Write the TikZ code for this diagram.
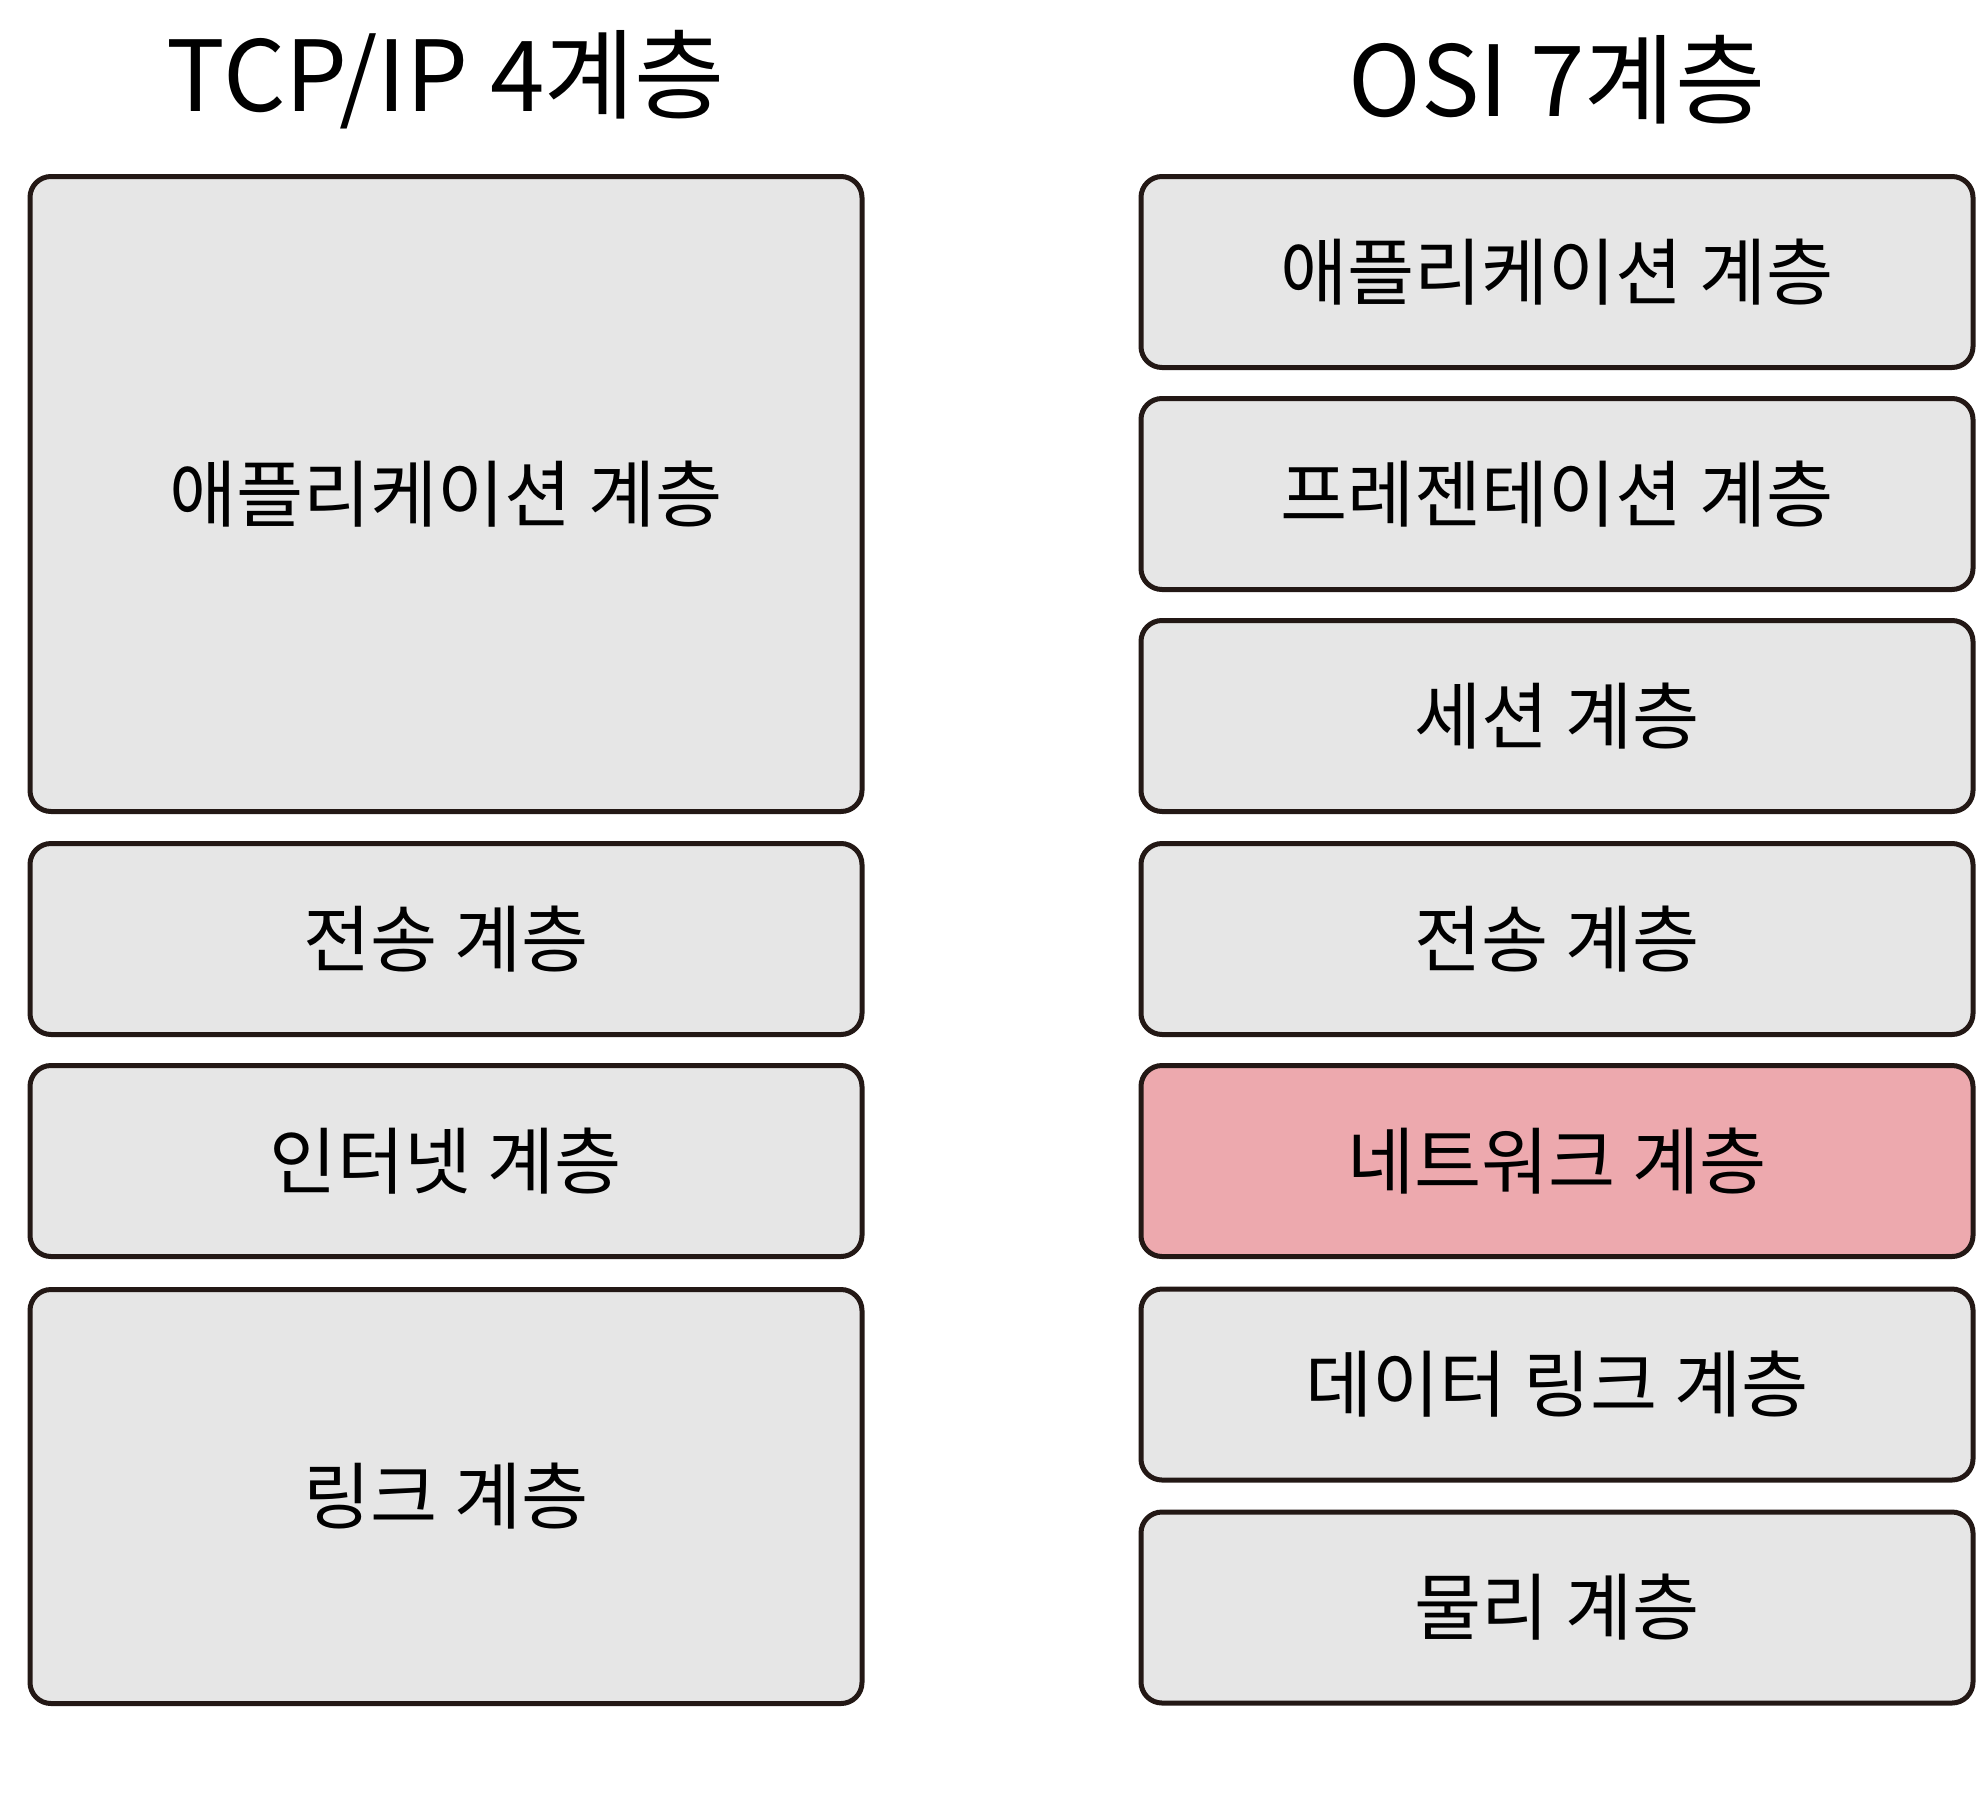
\documentclass[tikz,border=0pt]{standalone}
\usepackage{fontspec}
\setmainfont{Noto Sans CJK KR}
\definecolor{layergray}{HTML}{E6E6E6}
\definecolor{layerpink}{HTML}{EDA9AE}
\definecolor{inkline}{HTML}{231815}

\begin{document}
\begin{tikzpicture}[x=0.5pt, y=-0.5pt,
    layer/.style={draw=inkline, line width=2.5pt, rounded corners=10.5pt,
      fill=layergray, minimum width=416pt, inner sep=0pt,
      font=\fontsize{36.5}{42}\selectfont},
    tall/.style={minimum height=#1},
    title/.style={font=\fontsize{49}{56}\selectfont}]
  \useasboundingbox (0,0) rectangle (1978,1816);
  % titles
  \node[title] (tcpip) at (446,80) {TCP/IP 4계층};
  \node[title] (osi) at (1557,80) {OSI 7계층};
  % TCP/IP column
  \node[layer, tall=317.5pt] (tapp) at (446,494) {애플리케이션 계층};
  \node[layer, tall=95.5pt] (ttrans) at (446,939) {전송 계층};
  \node[layer, tall=95.5pt] (tnet) at (446,1161) {인터넷 계층};
  \node[layer, tall=207pt] (tlink) at (446,1496.5) {링크 계층};
  % OSI column
  \node[layer, tall=95.5pt] (oapp) at (1557,272) {애플리케이션 계층};
  \node[layer, tall=95.5pt] (opres) at (1557,494) {프레젠테이션 계층};
  \node[layer, tall=95.5pt] (osess) at (1557,716) {세션 계층};
  \node[layer, tall=95.5pt] (otrans) at (1557,939) {전송 계층};
  \node[layer, tall=95.5pt, fill=layerpink] (onet) at (1557,1161) {네트워크 계층};
  \node[layer, tall=95.5pt] (olink) at (1557,1384.5) {데이터 링크 계층};
  \node[layer, tall=95.5pt] (ophys) at (1557,1607.5) {물리 계층};
\end{tikzpicture}
\end{document}
